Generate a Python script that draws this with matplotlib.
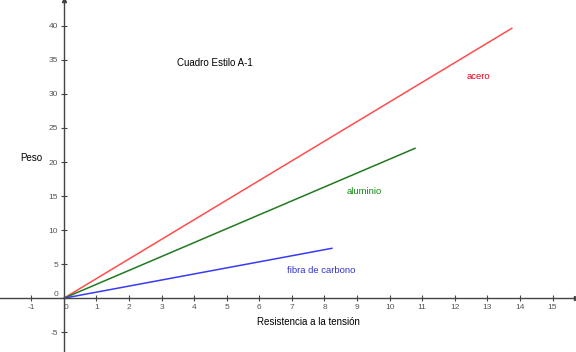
import numpy as np
import matplotlib
matplotlib.use("Agg")
from matplotlib import pyplot as plt

plt.rcParams['font.family'] = ['Liberation Sans', 'DejaVu Sans']

# data (end points of each line, all start at the origin)
names = ["acero", "aluminio", "fibra de carbono"]
x_end = [13.77, 10.8, 8.25]
y_end = [39.7, 22.06, 7.35]
line_colors = ["#ff4d4d", "#1f7a1f", "#3a3af5"]
text_colors = ["#e8001c", "#128a12", "#3333cc"]
label_x = [12.73, 9.23, 7.9]
label_y = [32.5, 15.7, 4.0]

xticks = list(range(-1, 16))
yticks = [-5, 0, 5, 10, 15, 20, 25, 30, 35, 40]

fig = plt.figure(figsize=(5.76, 3.52), dpi=100)
ax = fig.add_axes([0, 0, 1, 1])
ax.set_xlim(-1.96, 15.72)
ax.set_ylim(-7.9, 43.8)

for xe, ye, c in zip(x_end, y_end, line_colors):
    ax.plot([0, xe], [0, ye], color=c, lw=1.1, solid_capstyle="butt")

for n, lx, ly, c in zip(names, label_x, label_y, text_colors):
    ax.text(lx, ly, n, color=c, fontsize=6.8, ha="center", va="center")

ax.text(4.63, 34.5, "Cuadro Estilo A-1", fontsize=7, ha="center", va="center")
ax.text(-1.01, 20.6, "Peso", fontsize=7, ha="center", va="center")
ax.text(7.5, -3.5, "Resistencia a la tensión", fontsize=7, ha="center", va="center")

# axes through the origin
for s in ["top", "right"]:
    ax.spines[s].set_visible(False)
ax.spines["left"].set_position(("data", 0))
ax.spines["bottom"].set_position(("data", 0))
ax.spines["left"].set_color("#444444")
ax.spines["bottom"].set_color("#444444")
ax.spines["left"].set_linewidth(1.0)
ax.spines["bottom"].set_linewidth(1.0)

xl = ax.set_xticks(xticks, [str(t) for t in xticks])
yl = ax.set_yticks(yticks, [str(t) for t in yticks])
ax.tick_params(direction="inout", length=4, width=0.8, color="#444444",
               labelsize=6, labelcolor="#555555", pad=2)
for t in ax.get_xticklabels():
    if t.get_text() == "0":
        t.set_ha("left")
for t in ax.get_yticklabels():
    if t.get_text() == "0":
        t.set_va("bottom")

# arrow heads
ax.plot(1, 0, ">", color="#444444", ms=3, transform=ax.get_yaxis_transform(), clip_on=False)
ax.plot(0, 1, "^", color="#444444", ms=3, transform=ax.get_xaxis_transform(), clip_on=False)

fig.savefig("out.png", dpi=100)
